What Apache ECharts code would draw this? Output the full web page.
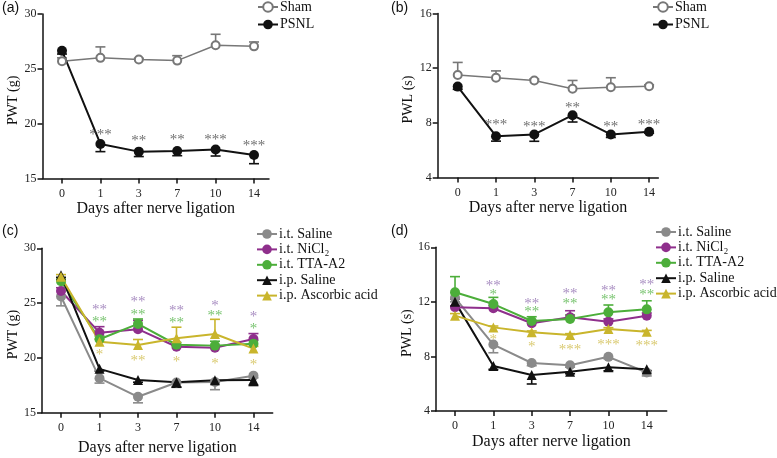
<!DOCTYPE html>
<html><head><meta charset="utf-8">
<script src="https://cdn.jsdelivr.net/npm/echarts@6/dist/echarts.min.js"></script>
<style>html,body{margin:0;padding:0;background:#fff}#c{width:777px;height:458px}</style>
</head><body><div id="c"></div>
<script>
// ---- data ----
var days = ['0', '1', '3', '7', '10', '14'];

// (a) PWT (g)
var aSham = [25.7, 26.0, 25.85, 25.75, 27.15, 27.05];
var aShamErr = [0.3, 1.0, 0.1, 0.45, 1.0, 0.4];
var aPsnl = [26.65, 18.15, 17.45, 17.5, 17.65, 17.15];
var aPsnlErr = [0.3, 0.7, 0.45, 0.42, 0.6, 0.8];
var aStars = ['', '***', '**', '**', '***', '***'];
var aStarsY = [null, 19.27, 18.7, 18.79, 18.79, 18.27];

// (b) PWL (s)
var bSham = [11.5, 11.3, 11.1, 10.5, 10.6, 10.68];
var bShamErr = [0.92, 0.5, 0.1, 0.6, 0.7, 0.1];
var bPsnl = [10.65, 7.02, 7.15, 8.56, 7.15, 7.34];
var bPsnlErr = [0.2, 0.36, 0.5, 0.5, 0.22, 0.1];
var bStars = ['', '***', '***', '**', '**', '***'];
var bStarsY = [null, 8.08, 7.92, 9.31, 7.92, 8.08];

// (c) PWT (g)
var cItSaline = [25.6, 18.15, 16.45, 17.75, 17.8, 18.38];
var cItSalineErr = [0.85, 0.45, 0.55, 0.42, 0.7, 0.2];
var cNiCl2 = [26.1, 22.3, 22.62, 21.02, 20.92, 21.72];
var cNiCl2Err = [0.3, 0.55, 0.8, 0.15, 0.2, 0.5];
var cTTA = [27.0, 21.7, 23.1, 21.2, 21.12, 21.3];
var cTTAErr = [0.3, 0.3, 0.45, 0.2, 0.4, 0.3];
var cIpSaline = [27.55, 19.0, 17.98, 17.77, 17.95, 17.98];
var cIpSalineErr = [0.2, 0.2, 0.2, 0.45, 0.2, 0.5];
var cAscorbic = [27.4, 21.48, 21.18, 21.8, 22.18, 20.85];
var cAscorbicErr = [0.2, 0.25, 0.5, 1.0, 1.34, 0.2];
var cStarsNi = ['', '**', '**', '**', '*', '*'];
var cStarsNiY = [null, 24.67, 25.35, 24.53, 25.04, 24.0];
var cStarsTTA = ['', '**', '**', '**', '**', '*'];
var cStarsTTAY = [null, 23.55, 24.22, 23.46, 24.12, 22.94];
var cStarsAsc = ['', '*', '**', '*', '*', '*'];
var cStarsAscY = [null, 20.57, 19.96, 19.9, 19.72, 19.6];

// (d) PWL (s)
var dItSaline = [12.3, 8.87, 7.52, 7.36, 7.97, 6.82];
var dItSalineErr = [0.3, 0.6, 0.2, 0.15, 0.15, 0.25];
var dNiCl2 = [11.6, 11.53, 10.43, 10.87, 10.55, 10.99];
var dNiCl2Err = [0.6, 0.2, 0.2, 0.48, 0.2, 0.2];
var dTTA = [12.7, 11.84, 10.6, 10.74, 11.23, 11.45];
var dTTAErr = [1.15, 0.49, 0.31, 0.3, 0.54, 0.63];
var dIpSaline = [12.0, 7.3, 6.64, 6.88, 7.2, 7.06];
var dIpSalineErr = [0.3, 0.25, 0.66, 0.15, 0.25, 0.1];
var dAscorbic = [10.99, 10.13, 9.77, 9.57, 10.01, 9.81];
var dAscorbicErr = [0.15, 0.1, 0.1, 0.1, 0.1, 0.1];
var dStarsNi = ['', '**', '**', '**', '**', '**'];
var dStarsNiY = [null, 13.4, 12.06, 12.8, 13.04, 13.48];
var dStarsTTA = ['', '*', '**', '**', '**', '**'];
var dStarsTTAY = [null, 12.74, 11.48, 12.09, 12.33, 12.7];
var dStarsAsc = ['', '*', '*', '***', '***', '***'];
var dStarsAscY = [null, 9.4, 8.89, 8.67, 9.08, 8.96];

// ---- styling ----
var SERIF = '"Liberation Serif","Times New Roman",serif';
var SANS = '"Liberation Sans",Arial,sans-serif';
var C_GRAY = '#8a8a8a', C_PURPLE = '#8f2f8c', C_GREEN = '#4cae3a', C_BLACK = '#111111', C_YELLOW = '#c9b52c';
var S_GRAY = '#4a4a4a', S_PURPLE = '#9270b2', S_GREEN = '#55b44a', S_YELLOW = '#d0bc4a';
var idx = days.map(function (d, i) { return i; });

var grids = [
  {left: 42.5, top: 14, width: 226.5, height: 164.5, xmin: -0.508, xmax: 5.39, ymin: 15, ymax: 30, step: 5, yname: 'PWT (g)', gap: 22},
  {left: 437.7, top: 13.5, width: 220.6, height: 164, xmin: -0.523, xmax: 5.24, ymin: 4, ymax: 16, step: 4, yname: 'PWL (s)', gap: 22},
  {left: 42, top: 248.3, width: 230.7, height: 164.4, xmin: -0.494, xmax: 5.5, ymin: 15, ymax: 30, step: 5, yname: 'PWT (g)', gap: 27},
  {left: 436, top: 247.3, width: 230.7, height: 163.7, xmin: -0.496, xmax: 5.52, ymin: 4, ymax: 16, step: 4, yname: 'PWL (s)', gap: 23}
];

var option = {
  animation: false,
  backgroundColor: '#ffffff',
  textStyle: {fontFamily: SERIF},
  grid: grids.map(function (g) {
    return {left: g.left, top: g.top, width: g.width, height: g.height, containLabel: false, outerBoundsMode: 'none'};
  }),
  xAxis: grids.map(function (g, k) {
    return {
      type: 'value', gridIndex: k, min: g.xmin, max: g.xmax,
      name: 'Days after nerve ligation', nameLocation: 'middle', nameGap: g.gap,
      nameTextStyle: {fontFamily: SERIF, fontSize: 16, color: '#111'},
      axisLine: {show: true, onZero: false, lineStyle: {color: '#111', width: 1.5}},
      axisTick: {show: true, length: 5, customValues: idx, lineStyle: {color: '#111', width: 1.5}},
      axisLabel: {customValues: idx, margin: 9, fontFamily: SERIF, fontSize: 12, color: '#222',
        formatter: function (v) { return days[Math.round(v)]; }},
      splitLine: {show: false}
    };
  }),
  yAxis: grids.map(function (g, k) {
    return {
      type: 'value', gridIndex: k, min: g.ymin, max: g.ymax, interval: g.step,
      name: g.yname, nameLocation: 'middle', nameGap: 22, nameRotate: 90,
      nameTextStyle: {fontFamily: SERIF, fontSize: 14, color: '#111', padding: [0, 8, 0, 0]},
      axisLine: {show: true, onZero: false, lineStyle: {color: '#111', width: 1.5}},
      axisTick: {show: true, length: 5, lineStyle: {color: '#111', width: 1.5}},
      axisLabel: {margin: 6, fontFamily: SERIF, fontSize: 12, color: '#222'},
      splitLine: {show: false}
    };
  }),
  legend: [
    {data: ['Sham', 'PSNL'], left: 257, top: 0, gap: 3.5},
    {data: ['Sham', 'PSNL'], left: 652, top: 0, gap: 3.5},
    {data: ['i.t. Saline', 'i.t. NiCl₂', 'i.t. TTA-A2', 'i.p. Saline', 'i.p. Ascorbic acid'], left: 256, top: 227, gap: 1.4},
    {data: ['i.t. Saline', 'i.t. NiCl₂', 'i.t. TTA-A2', 'i.p. Saline', 'i.p. Ascorbic acid'], left: 655, top: 225, gap: 1.4}
  ].map(function (l) {
    return {data: l.data, left: l.left, top: l.top, orient: 'vertical', itemGap: l.gap, itemWidth: 20, itemHeight: 12,
      padding: 0, selectedMode: false,
      textStyle: {fontFamily: SERIF, fontSize: 14, lineHeight: 14, color: '#111', padding: [0, 0, 0, -3]}};
  }),
  graphic: [
    {type: 'text', left: 2, top: 1, style: {text: '(a)', font: '14px ' + SANS, fill: '#111'}},
    {type: 'text', left: 391, top: 1, style: {text: '(b)', font: '14px ' + SANS, fill: '#111'}},
    {type: 'text', left: 2, top: 224, style: {text: '(c)', font: '14px ' + SANS, fill: '#111'}},
    {type: 'text', left: 391, top: 224, style: {text: '(d)', font: '14px ' + SANS, fill: '#111'}}
  ],
  series: []
};

function lineSeries(name, k, vals, color, symbol, size, width) {
  return {
    type: 'line', name: name, xAxisIndex: k, yAxisIndex: k, z: 3,
    data: vals.map(function (v, i) { return [i, v]; }),
    symbol: symbol, symbolSize: size, showSymbol: true,
    lineStyle: {color: color, width: width},
    itemStyle: {color: color, borderColor: color, borderWidth: symbol === 'emptyCircle' ? 1.5 : 0},
    emphasis: {disabled: true}
  };
}
function errSeries(k, vals, errs, dir, color) {
  return {
    type: 'custom', xAxisIndex: k, yAxisIndex: k, z: 2, silent: true,
    data: vals.map(function (v, i) { return [i, v, errs[i]]; }),
    renderItem: function (params, api) {
      var x = api.value(0), y = api.value(1), e = api.value(2);
      var p0 = api.coord([x, y]);
      var p1 = api.coord([x, y + dir * e]);
      return {type: 'group', children: [
        {type: 'line', shape: {x1: p0[0], y1: p0[1], x2: p1[0], y2: p1[1]}, style: {stroke: color, lineWidth: 1.6}},
        {type: 'line', shape: {x1: p1[0] - 5, y1: p1[1], x2: p1[0] + 5, y2: p1[1]}, style: {stroke: color, lineWidth: 1.6}}
      ]};
    }
  };
}
function starSeries(k, labels, ys, color) {
  var data = [];
  labels.forEach(function (s, i) { if (s) data.push({value: [i, ys[i]], label: {formatter: s}}); });
  return {
    type: 'scatter', xAxisIndex: k, yAxisIndex: k, z: 4, silent: true, symbolSize: 1,
    itemStyle: {color: 'rgba(0,0,0,0)'},
    data: data,
    label: {show: true, position: 'inside', offset: [0, 3], color: color, fontFamily: SERIF, fontSize: 15}
  };
}

var S = option.series;
// (a)
S.push(errSeries(0, aSham, aShamErr, 1, '#777'));
S.push(errSeries(0, aPsnl, aPsnlErr, -1, C_BLACK));
S.push(lineSeries('Sham', 0, aSham, '#777777', 'emptyCircle', 8, 1.5));
S.push(lineSeries('PSNL', 0, aPsnl, C_BLACK, 'circle', 10, 2));
S.push(starSeries(0, aStars, aStarsY, S_GRAY));
// (b)
S.push(errSeries(1, bSham, bShamErr, 1, '#777'));
S.push(errSeries(1, bPsnl, bPsnlErr, -1, C_BLACK));
S.push(lineSeries('Sham', 1, bSham, '#777777', 'emptyCircle', 8, 1.5));
S.push(lineSeries('PSNL', 1, bPsnl, C_BLACK, 'circle', 10, 2));
S.push(starSeries(1, bStars, bStarsY, S_GRAY));
// (c) & (d)
[[2, cItSaline, cItSalineErr, cNiCl2, cNiCl2Err, cTTA, cTTAErr, cIpSaline, cIpSalineErr, cAscorbic, cAscorbicErr,
  cStarsNi, cStarsNiY, cStarsTTA, cStarsTTAY, cStarsAsc, cStarsAscY],
 [3, dItSaline, dItSalineErr, dNiCl2, dNiCl2Err, dTTA, dTTAErr, dIpSaline, dIpSalineErr, dAscorbic, dAscorbicErr,
  dStarsNi, dStarsNiY, dStarsTTA, dStarsTTAY, dStarsAsc, dStarsAscY]].forEach(function (p) {
  var k = p[0];
  S.push(errSeries(k, p[1], p[2], -1, C_GRAY));
  S.push(errSeries(k, p[3], p[4], 1, C_PURPLE));
  S.push(errSeries(k, p[5], p[6], 1, C_GREEN));
  S.push(errSeries(k, p[7], p[8], -1, C_BLACK));
  S.push(errSeries(k, p[9], p[10], 1, C_YELLOW));
  S.push(lineSeries('i.t. Saline', k, p[1], C_GRAY, 'circle', 10, 2));
  S.push(lineSeries('i.t. NiCl₂', k, p[3], C_PURPLE, 'circle', 10, 2));
  S.push(lineSeries('i.t. TTA-A2', k, p[5], C_GREEN, 'circle', 10, 2));
  S.push(lineSeries('i.p. Saline', k, p[7], C_BLACK, 'triangle', 10, 2));
  S.push(lineSeries('i.p. Ascorbic acid', k, p[9], C_YELLOW, 'triangle', 10, 2));
  S.push(starSeries(k, p[11], p[12], S_PURPLE));
  S.push(starSeries(k, p[13], p[14], S_GREEN));
  S.push(starSeries(k, p[15], p[16], S_YELLOW));
});

var chart = echarts.init(document.getElementById('c'), null, {renderer: 'canvas'});
chart.setOption(option);
</script>
</body></html>
